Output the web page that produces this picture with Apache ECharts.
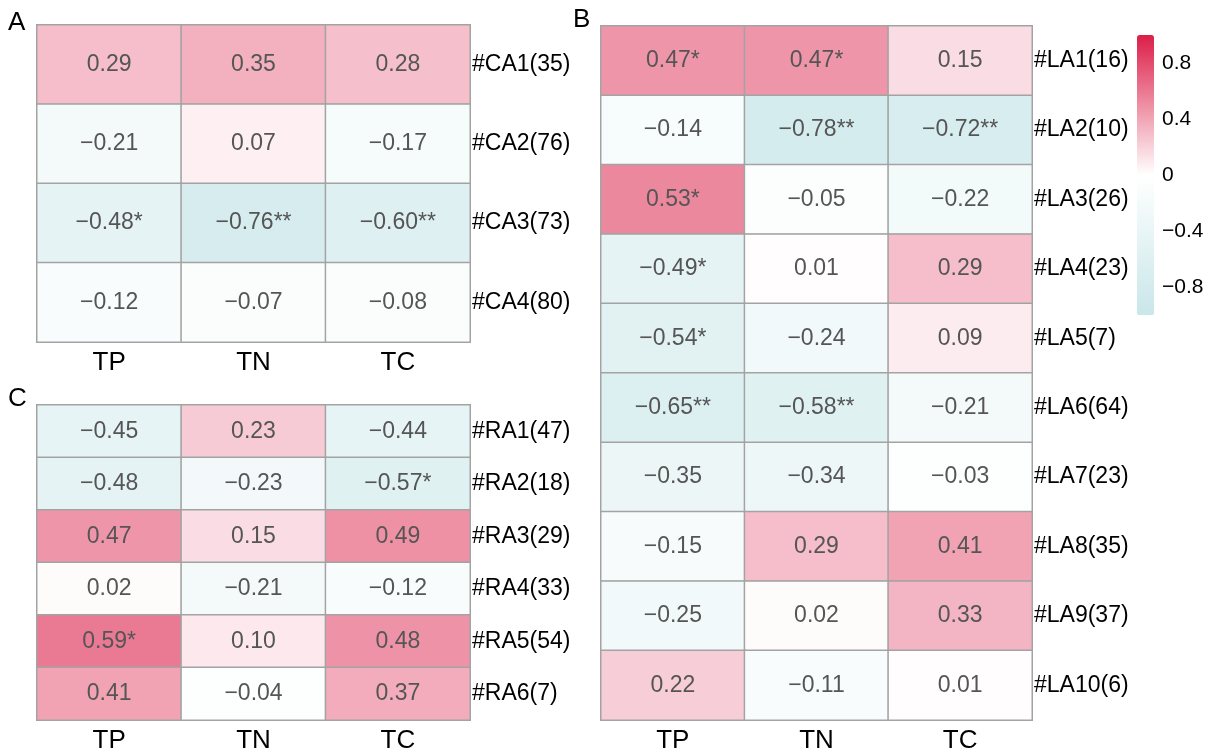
<!DOCTYPE html>
<html>
<head>
<meta charset="utf-8">
<title>Correlation heatmaps</title>
<script src="https://cdn.jsdelivr.net/npm/echarts@6/dist/echarts.min.js"></script>
<style>
  html, body { margin: 0; padding: 0; background: #fff; }
  #chart { width: 1217px; height: 755px; }
</style>
</head>
<body>
<div id="chart"></div>
<script>
// Column variables shared by the three panels
const columns = ['TP', 'TN', 'TC'];

// Panel A
const rowsA = ['#CA1(35)', '#CA2(76)', '#CA3(73)', '#CA4(80)'];
const valuesA = [
  [0.29, 0.35, 0.28],
  [-0.21, 0.07, -0.17],
  [-0.48, -0.76, -0.60],
  [-0.12, -0.07, -0.08]
];
const starsA = [
  ['', '', ''],
  ['', '', ''],
  ['*', '**', '**'],
  ['', '', '']
];

// Panel B
const rowsB = ['#LA1(16)', '#LA2(10)', '#LA3(26)', '#LA4(23)', '#LA5(7)',
               '#LA6(64)', '#LA7(23)', '#LA8(35)', '#LA9(37)', '#LA10(6)'];
const valuesB = [
  [0.47, 0.47, 0.15],
  [-0.14, -0.78, -0.72],
  [0.53, -0.05, -0.22],
  [-0.49, 0.01, 0.29],
  [-0.54, -0.24, 0.09],
  [-0.65, -0.58, -0.21],
  [-0.35, -0.34, -0.03],
  [-0.15, 0.29, 0.41],
  [-0.25, 0.02, 0.33],
  [0.22, -0.11, 0.01]
];
const starsB = [
  ['*', '*', ''],
  ['', '**', '**'],
  ['*', '', ''],
  ['*', '', ''],
  ['*', '', ''],
  ['**', '**', ''],
  ['', '', ''],
  ['', '', ''],
  ['', '', ''],
  ['', '', '']
];

// Panel C
const rowsC = ['#RA1(47)', '#RA2(18)', '#RA3(29)', '#RA4(33)', '#RA5(54)', '#RA6(7)'];
const valuesC = [
  [-0.45, 0.23, -0.44],
  [-0.48, -0.23, -0.57],
  [0.47, 0.15, 0.49],
  [0.02, -0.21, -0.12],
  [0.59, 0.10, 0.48],
  [0.41, -0.04, 0.37]
];
const starsC = [
  ['', '', ''],
  ['', '', '*'],
  ['', '', ''],
  ['', '', ''],
  ['*', '', ''],
  ['', '', '']
];

// Colour bar tick labels
const legendTicks = [-0.8, -0.4, 0, 0.4, 0.8];

const FONT = '"Liberation Sans", Arial, Helvetica, sans-serif';

function fmt(v) {
  return v.toFixed(2).replace('-', '\u2212');
}

function toCells(values, stars) {
  const out = [];
  values.forEach((row, r) => {
    row.forEach((v, c) => {
      out.push([c, r, v, fmt(v) + stars[r][c]]);
    });
  });
  return out;
}

// Grid rectangles for panels A, C, B and the colour bar axis
const grids = [
  { left: 37, top: 25, width: 433, height: 317 },
  { left: 37, top: 405, width: 433, height: 315 },
  { left: 601, top: 26, width: 431, height: 694 },
  { left: 1137, top: 35, width: 17, height: 280 }
];

function catX(gi) {
  return {
    type: 'category', gridIndex: gi, data: columns, position: 'bottom',
    axisLine: { show: false }, axisTick: { show: false },
    splitLine: { show: false }, splitArea: { show: false },
    axisLabel: { color: '#000', fontSize: 26, fontFamily: FONT, margin: 8 }
  };
}
function catY(gi, rows) {
  return {
    type: 'category', gridIndex: gi, data: rows, inverse: true, position: 'right',
    axisLine: { show: false }, axisTick: { show: false },
    splitLine: { show: false }, splitArea: { show: false },
    axisLabel: { color: '#000', fontSize: 23, fontFamily: FONT, margin: 2 }
  };
}

function heat(xi, yi, data) {
  return {
    type: 'heatmap', xAxisIndex: xi, yAxisIndex: yi, data: data,
    itemStyle: { borderColor: '#a3a3a3', borderWidth: 1.5 },
    label: {
      show: true, color: '#555', fontSize: 23, fontFamily: FONT,
      formatter: p => p.data[3]
    },
    emphasis: { disabled: true }
  };
}

const chart = echarts.init(document.getElementById('chart'), null, { renderer: 'canvas' });

chart.setOption({
  backgroundColor: '#fff',
  animation: false,
  title: [
    { text: 'A', left: 8, top: 10, padding: 0, textStyle: { fontSize: 26, fontWeight: 'normal', color: '#000', fontFamily: FONT } },
    { text: 'C', left: 8, top: 386, padding: 0, textStyle: { fontSize: 26, fontWeight: 'normal', color: '#000', fontFamily: FONT } },
    { text: 'B', left: 573, top: 7, padding: 0, textStyle: { fontSize: 26, fontWeight: 'normal', color: '#000', fontFamily: FONT } }
  ],
  grid: grids,
  xAxis: [
    catX(0), catX(1), catX(2),
    { type: 'value', gridIndex: 3, show: false, min: 0, max: 1 }
  ],
  yAxis: [
    catY(0, rowsA), catY(1, rowsC), catY(2, rowsB),
    {
      type: 'value', gridIndex: 3, min: -1, max: 1, interval: 0.2, position: 'right',
      axisLine: { show: false }, axisTick: { show: false }, splitLine: { show: false },
      axisLabel: {
        color: '#000', fontSize: 21, fontFamily: FONT, margin: 8,
        formatter: v => {
          const hit = legendTicks.find(t => Math.abs(t - v) < 1e-6);
          return hit === undefined ? '' : (hit === 0 ? '0' : String(hit).replace('-', '\u2212'));
        }
      }
    }
  ],
  visualMap: {
    type: 'continuous', min: -1, max: 1, dimension: 2,
    seriesIndex: [0, 1, 2],
    calculable: false, realtime: false, hoverLink: false,
    orient: 'vertical', left: 1137, top: 35, padding: 0,
    itemWidth: 17, itemHeight: 280,
    text: null, showLabel: false,
    inRange: { color: ['#c9e6e9', '#ffffff', '#dc1e48'] }
  },
  series: [
    heat(0, 0, toCells(valuesA, starsA)),
    heat(1, 1, toCells(valuesC, starsC)),
    heat(2, 2, toCells(valuesB, starsB))
  ]
});
</script>
</body>
</html>
